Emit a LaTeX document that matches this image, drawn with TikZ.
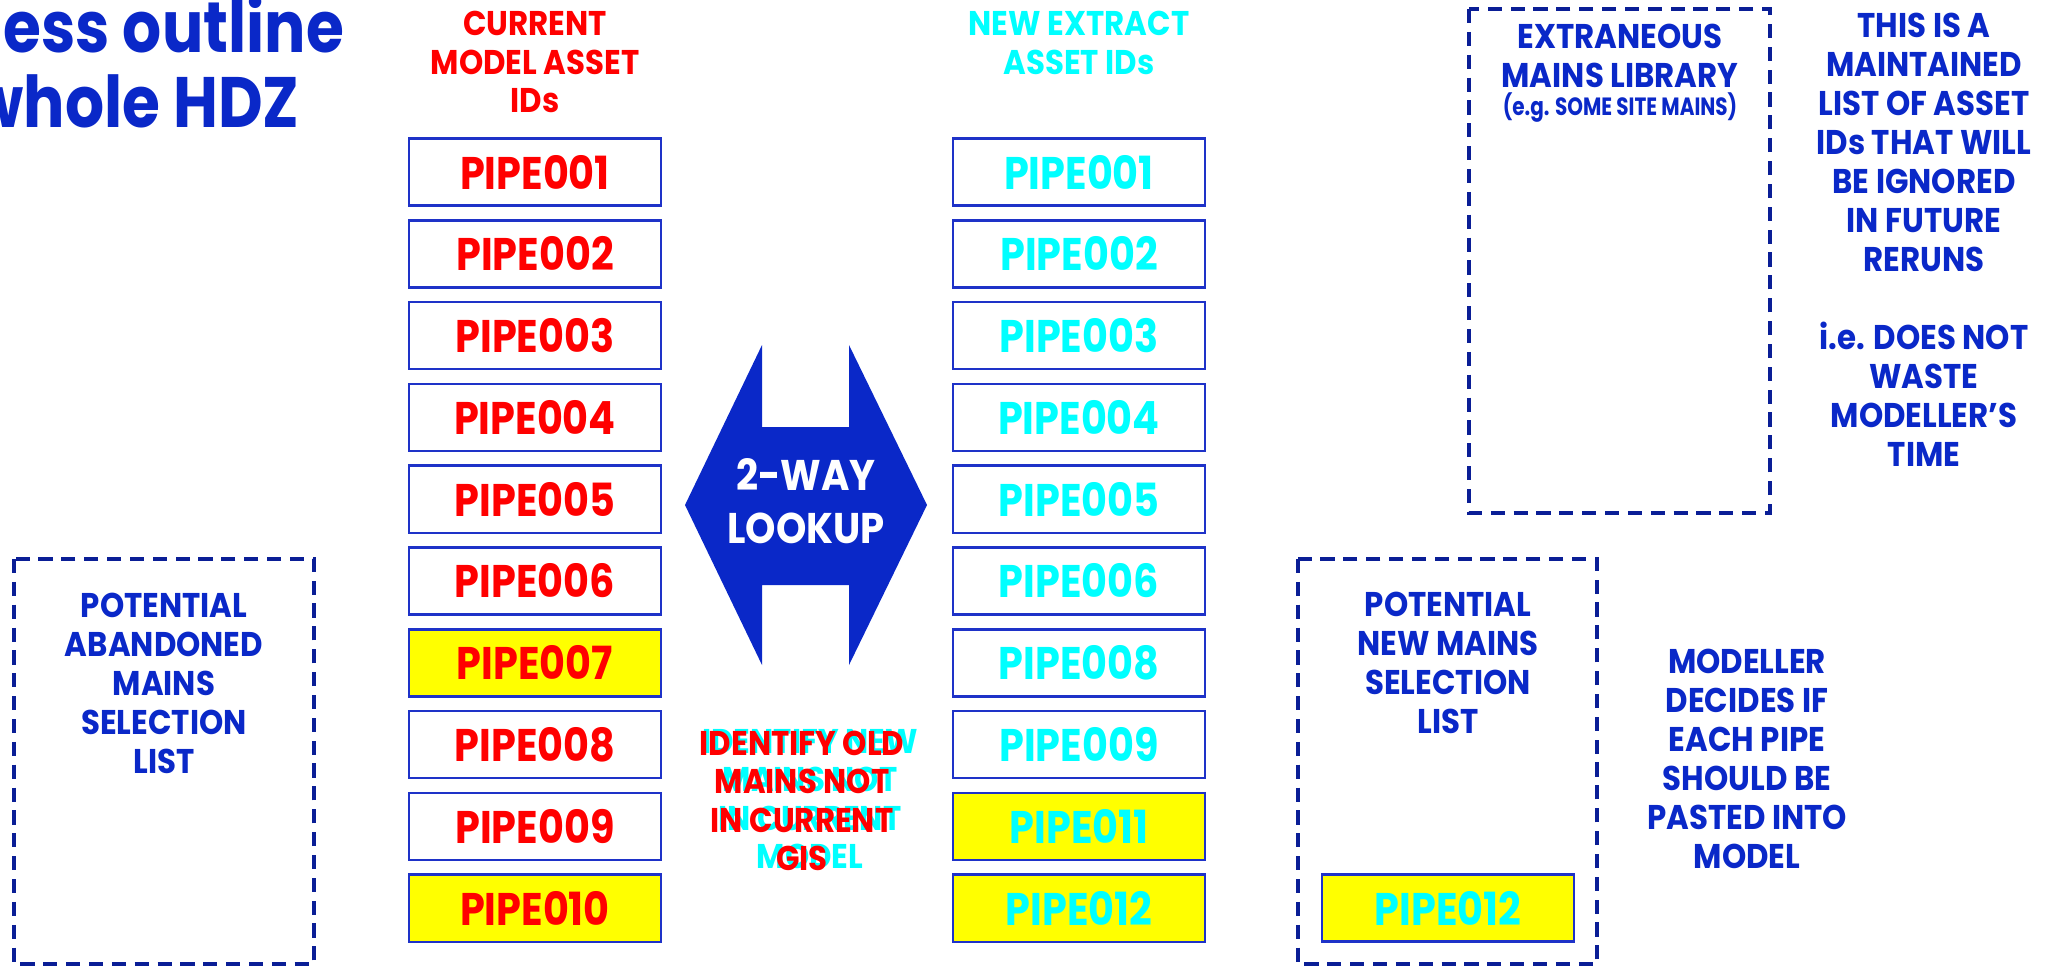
\documentclass[tikz,border=0pt]{standalone}
\usepackage{fontspec}
\setmainfont{Poppins}
\newfontfamily\gothic[FakeStretch=0.9]{Poppins}
\newfontfamily\gothictitle[FakeStretch=0.86]{Poppins}
\newfontfamily\gothicnarrow[FakeStretch=0.87]{Poppins}
\newfontfamily\gothicsmall[FakeStretch=0.8]{Poppins}
\usetikzlibrary{positioning}

\definecolor{hdzblue}{RGB}{10,40,200}
\definecolor{dashnavy}{RGB}{10,30,150}
\definecolor{boxline}{RGB}{30,50,200}
\definecolor{aqua}{RGB}{0,255,255}
\definecolor{lemon}{RGB}{255,255,0}
\definecolor{pipered}{RGB}{255,0,0}

\begin{document}
\begin{tikzpicture}[x=0.01cm, y=-0.01cm,
  titletext/.style={text=hdzblue, inner sep=0pt, font=\gothictitle\bfseries\fontsize{20.3}{24}\selectfont},
  headtext/.style={align=center, inner sep=0pt, font=\gothic\bfseries\fontsize{9.75}{10.9}\selectfont},
  bluetext/.style={headtext, text=hdzblue, font=\gothic\bfseries\fontsize{9.75}{11.1}\selectfont},
  idbox/.style={draw=boxline, line width=0.7pt, minimum width=2.52cm, minimum height=0.67cm,
    inner sep=0pt, font=\gothicnarrow\bfseries\fontsize{13}{15}\selectfont},
  dashbox/.style={draw=dashnavy, line width=1pt, dash pattern=on 4pt off 2.5pt}]

  \useasboundingbox (0,0) rectangle (2049,966);

  % Title, cut off at the left edge
  \node[titletext, anchor=base west] (title1) at (3,52) {ess outline};
  \node[titletext, anchor=base east] (title2) at (300,127) {whole HDZ};

  % Column headers
  \node[headtext, text=pipered] (curhead) at (535,62) {CURRENT\\MODEL ASSET\\IDs};
  \node[headtext, text=aqua] (newhead) at (1079,43) {NEW EXTRACT\\ASSET IDs};

  % Current model asset IDs
  \foreach \id/\fc [count=\i] in {001/white,002/white,003/white,004/white,005/white,
      006/white,007/lemon,008/white,009/white,010/lemon}
    \node[idbox, fill=\fc, text=pipered] (cur\i) at (535,{172+(\i-1)*81.8}) {PIPE\id};

  % New extract asset IDs
  \foreach \id/\fc [count=\i] in {001/white,002/white,003/white,004/white,005/white,
      006/white,008/white,009/white,011/lemon,012/lemon}
    \node[idbox, fill=\fc, text=aqua] (new\i) at (1079,{172+(\i-1)*81.8}) {PIPE\id};

  % 2-way lookup
  \fill[hdzblue] (762,345) -- (762,427) -- (849,427) -- (849,345) -- (927,505)
    -- (849,665) -- (849,585) -- (762,585) -- (762,665) -- (685,505) -- cycle;
  \node[align=center, text=white, inner sep=0pt,
    font=\gothic\bfseries\fontsize{12.2}{14.9}\selectfont] (lookup) at (806,501) {2-WAY\\LOOKUP};

  % Overlapping notes
  \node[headtext, text=aqua] (newnote) at (810,799) {IDENTIFY NEW\\MAINS NOT\\IN CURRENT\\MODEL};
  \node[headtext, text=pipered] (oldnote) at (802,801) {IDENTIFY OLD\\MAINS NOT\\IN CURRENT\\GIS};

  % Abandoned mains list
  \draw[dashbox] (14,559) rectangle (314,964);
  \node[bluetext] (abandoned) at (164,683) {POTENTIAL\\ABANDONED\\MAINS\\SELECTION\\LIST};

  % New mains list
  \draw[dashbox] (1298,559) rectangle (1597,964);
  \node[bluetext] (newmains) at (1448,663) {POTENTIAL\\NEW MAINS\\SELECTION\\LIST};
  \node[idbox, fill=lemon, text=aqua] (picked) at (1448,908) {PIPE012};
  \node[bluetext] (modeller) at (1747,759) {MODELLER\\DECIDES IF\\EACH PIPE\\SHOULD BE\\PASTED INTO\\MODEL};

  % Extraneous mains library
  \draw[dashbox] (1469,9) rectangle (1770,513);
  \node[bluetext] (library) at (1620,56) {EXTRANEOUS\\MAINS LIBRARY};
  \node[text=hdzblue, inner sep=0pt, font=\gothicsmall\bfseries\fontsize{7.1}{8}\selectfont]
    (sitemains) at (1620,108) {(e.g. SOME SITE MAINS)};
  \node[bluetext] (ignored) at (1924,240) {THIS IS A\\MAINTAINED\\LIST OF ASSET\\IDs THAT WILL\\BE IGNORED\\IN FUTURE\\RERUNS\\[11.1pt]i.e. DOES NOT\\WASTE\\MODELLER’S\\TIME};

\end{tikzpicture}
\end{document}
